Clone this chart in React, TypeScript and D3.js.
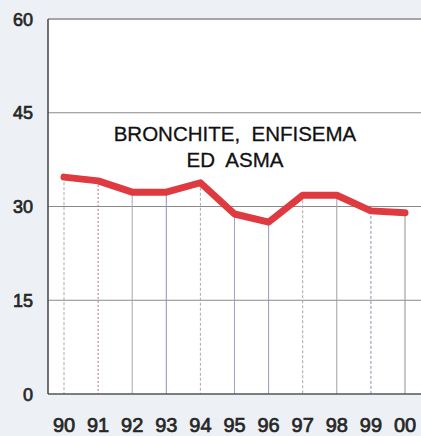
import React from "react";
import * as d3 from "d3";

const years = ["90", "91", "92", "93", "94", "95", "96", "97", "98", "99", "00"];
const values = [34.7, 34.1, 32.3, 32.3, 33.8, 28.8, 27.5, 31.8, 31.8, 29.3, 29.0];
const yTicks = [0, 15, 30, 45, 60];
const titleLines = ["BRONCHITE,  ENFISEMA", "ED  ASMA"];

const W = 421;
const H = 436;
const plotLeft = 48;
const plotRight = 421;
const plotTop = 19;
const plotBottom = 394;

export default function App() {
  const x = d3.scalePoint<string>().domain(years).range([64, 405]);
  const y = d3.scaleLinear().domain([0, 60]).range([plotBottom, plotTop]);
  const line = d3
    .line<number>()
    .x((_, i) => x(years[i]) as number)
    .y((d) => y(d));
  const dropStyles = ["3,2", "2,2", "none", "none", "3,2", "none", "none", "3,2", "none", "3,2", "none"];
  const dropColors = ["#a8a8b8", "#b07080", "#b0a0b0", "#9090c0", "#b0a8a8", "#a0a0c8", "#9898c0", "#b0a0a0", "#a0a0a0", "#9090b0", "#909090"];
  return (
    <div style={{ position: "fixed", left: 0, top: 0, width: W, height: H }}>
      <svg width={W} height={H} style={{ display: "block", fontFamily: "Liberation Sans, Arial, sans-serif" }}>
        <rect x={0} y={0} width={W} height={H} fill="#edf1f5" />
        <rect x={plotLeft} y={plotTop} width={plotRight - plotLeft} height={plotBottom - plotTop} fill="#ffffff" />
        {yTicks
          .filter((t) => t > 0 && t < 60)
          .map((t) => (
            <line key={t} x1={plotLeft} x2={plotRight} y1={y(t)} y2={y(t)} stroke="#8a8a8a" strokeWidth={1} />
          ))}
        {years.map((yr, i) => (
          <line
            key={yr}
            x1={x(yr)}
            x2={x(yr)}
            y1={y(values[i])}
            y2={plotBottom}
            stroke={dropColors[i]}
            strokeWidth={1}
            strokeDasharray={dropStyles[i]}
          />
        ))}
        <line x1={plotLeft} x2={plotRight} y1={plotTop} y2={plotTop} stroke="#8a8a8a" strokeWidth={1.5} />
        <line x1={plotLeft} x2={plotRight} y1={plotBottom} y2={plotBottom} stroke="#555" strokeWidth={1.5} />
        <line x1={plotLeft} x2={plotLeft} y1={plotTop} y2={plotBottom} stroke="#444" strokeWidth={1.5} />
        <path d={line(values) || ""} fill="none" stroke="#de3a40" strokeWidth={7} strokeLinejoin="round" strokeLinecap="round" />
        {yTicks.map((t) => (
          <text key={t} x={33} y={y(t) + 6.5} textAnchor="end" fontSize={18} fill="#262626" stroke="#262626" strokeWidth={0.7}>
            {t}
          </text>
        ))}
        {years.map((yr) => (
          <text key={yr} x={x(yr)} y={432} textAnchor="middle" fontSize={20} fill="#262626" stroke="#262626" strokeWidth={0.7}>
            {yr}
          </text>
        ))}
        {titleLines.map((s, i) => (
          <text key={i} x={235} y={141 + i * 26} textAnchor="middle" fontSize={20.5} fill="#111" stroke="#111" strokeWidth={0.3} style={{ whiteSpace: "pre" }}>
            {s}
          </text>
        ))}
      </svg>
    </div>
  );
}
